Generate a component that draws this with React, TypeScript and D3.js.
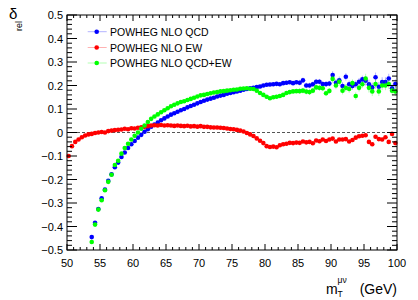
import React from "react";
import * as d3 from "d3";

// Bin centres (0.5 GeV bins from 50 to 100 GeV)
const mT: number[] = d3.range(100).map((i) => 50 + 0.5 * i + 0.25);

const seriesNames = ["POWHEG NLO QCD", "POWHEG NLO EW", "POWHEG NLO QCD+EW"];
const seriesColors = ["#0000ff", "#ff0000", "#00ff00"];

const qcd: (number | null)[] = [
  null, null, null, null, null, null, null,
  -0.445, -0.384, -0.326, -0.28, -0.243, -0.206, -0.178, -0.148, -0.128, -0.104,
  -0.085, -0.066, -0.05, -0.036, -0.022, -0.01, 0.003, 0.014, 0.025, 0.034,
  0.042, 0.052, 0.06, 0.068, 0.076, 0.082, 0.088, 0.095, 0.1, 0.107,
  0.113, 0.118, 0.124, 0.13, 0.135, 0.14, 0.144, 0.148, 0.153, 0.157,
  0.16, 0.165, 0.168, 0.171, 0.175, 0.178, 0.182, 0.185, 0.188, 0.19,
  0.193, 0.196, 0.2, 0.203, 0.204, 0.205, 0.207, 0.205, 0.21, 0.212,
  0.214, 0.21, 0.214, 0.212, 0.222, 0.2, 0.2, 0.205, 0.216, 0.216,
  0.206, 0.206, 0.208, 0.245, 0.212, 0.222, 0.198, 0.237, 0.205, 0.198,
  0.205, 0.216, 0.226, 0.22, 0.205, 0.192, 0.235, 0.195, 0.215, 0.215,
  0.23, 0.188, 0.206,
];

const ew: number[] = [
  -0.1, -0.058, -0.04, -0.03, -0.02, -0.013, -0.008, -0.006, -0.002, 0.0,
  0.002, 0.0, 0.006, 0.008, 0.01, 0.012, 0.013, 0.016, 0.014, 0.018,
  0.017, 0.02, 0.022, 0.024, 0.027, 0.03, 0.031, 0.03, 0.032, 0.03,
  0.031, 0.03, 0.028, 0.03, 0.028, 0.027, 0.029, 0.026, 0.027, 0.025,
  0.027, 0.024, 0.024, 0.022, 0.021, 0.021, 0.02, 0.019, 0.017, 0.015,
  0.014, 0.011, 0.008, 0.004, -0.002, -0.008, -0.015, -0.025, -0.035, -0.045,
  -0.058, -0.062, -0.06, -0.063, -0.054, -0.05, -0.048, -0.044, -0.045, -0.043,
  -0.044, -0.038, -0.042, -0.04, -0.046, -0.034, -0.037, -0.03, -0.036, -0.03,
  -0.026, -0.038, -0.03, -0.03, -0.028, -0.038, -0.032, -0.022, -0.016, -0.014,
  -0.012, -0.04, -0.05, -0.018, -0.028, -0.03, -0.02, -0.04, -0.006, -0.045,
];

const qcdew: (number | null)[] = [
  null, null, null, null, null, null, null,
  -0.466, -0.392, -0.328, -0.288, -0.246, -0.21, -0.18, -0.138, -0.12, -0.09,
  -0.066, -0.048, -0.03, -0.014, 0.0, 0.016, 0.03, 0.045, 0.058, 0.068,
  0.077, 0.086, 0.095, 0.103, 0.112, 0.118, 0.124, 0.13, 0.133, 0.138,
  0.143, 0.148, 0.153, 0.158, 0.16, 0.164, 0.167, 0.17, 0.172, 0.175,
  0.176, 0.178, 0.18, 0.182, 0.183, 0.186, 0.187, 0.188, 0.186, 0.185,
  0.178, 0.168, 0.16, 0.152, 0.146, 0.15, 0.152, 0.155, 0.16, 0.168,
  0.172, 0.175, 0.176, 0.176, 0.178, 0.174, 0.172, 0.178, 0.192, 0.19,
  0.188, 0.167, 0.177, 0.228, 0.2, 0.216, 0.178, 0.19, 0.185, 0.21,
  0.155, 0.19, 0.205, 0.23, 0.19, 0.175, 0.206, 0.175, 0.2, 0.2,
  0.206, 0.178, 0.175,
];

// Statistical uncertainty per 5 GeV block
const errQCDBlocks = [0.004, 0.003, 0.003, 0.003, 0.004, 0.006, 0.008, 0.012, 0.016, 0.02];
const errEWBlocks = [0.002, 0.002, 0.002, 0.002, 0.002, 0.003, 0.004, 0.005, 0.006, 0.008];

const xTickLabels = ["50", "55", "60", "65", "70", "75", "80", "85", "90", "95", "100"];

const W = 418;
const H = 300;
const L = 67;
const R = 397;
const T = 15;
const B = 250;

const font = "'Liberation Sans', Arial, Helvetica, sans-serif";

export default function App() {
  const x = d3.scaleLinear().domain([50, 100]).range([L, R]);
  const y = d3.scaleLinear().domain([-0.5, 0.5]).range([B, T]);

  const xMajor = x.ticks(10);
  const xMinor = x.ticks(50);
  const yMajor = y.ticks(10);
  const yMinor = y.ticks(50);

  const series = [
    { vals: qcd, err: errQCDBlocks, color: seriesColors[0] },
    { vals: ew, err: errEWBlocks, color: seriesColors[1] },
    { vals: qcdew, err: errQCDBlocks, color: seriesColors[2] },
  ];

  const fmtY = (v: number) => (Math.abs(v) < 1e-9 ? "0" : d3.format(".1f")(v));

  return (
    <svg
      width={W}
      height={H}
      style={{ position: "absolute", left: 0, top: 0, background: "#fff" }}
      fontFamily={font}
    >
      <rect x={0} y={0} width={W} height={H} fill="#fff" />
      {/* zero line */}
      <line
        x1={x(50)}
        x2={x(100)}
        y1={y(0)}
        y2={y(0)}
        stroke="#555"
        strokeWidth={1}
        strokeDasharray="3,2"
      />
      {/* data */}
      {series.map((s, si) => (
        <g key={si}>
          {s.vals.map((v, i) =>
            v == null || i >= mT.length ? null : (
              <line
                key={"e" + i}
                x1={x(mT[i])}
                x2={x(mT[i])}
                y1={y(v - s.err[Math.floor(i / 10)])}
                y2={y(v + s.err[Math.floor(i / 10)])}
                stroke={s.color}
                strokeOpacity={0.3}
                strokeWidth={1}
              />
            )
          )}
          {s.vals.map((v, i) =>
            v == null || i >= mT.length ? null : (
              <circle key={"p" + i} cx={x(mT[i])} cy={y(v)} r={2.3} fill={s.color} />
            )
          )}
        </g>
      ))}
      {/* frame */}
      <rect x={L} y={T} width={R - L} height={B - T} fill="none" stroke="#000" strokeWidth={1} />
      {/* x ticks */}
      {xMinor.map((t) => {
        const major = xMajor.some((m) => Math.abs(m - t) < 1e-9);
        const len = major ? 6 : 3;
        return (
          <g key={"xt" + t}>
            <line x1={x(t)} x2={x(t)} y1={B} y2={B - len} stroke="#000" />
            <line x1={x(t)} x2={x(t)} y1={T} y2={T + len} stroke="#000" />
          </g>
        );
      })}
      {/* y ticks */}
      {yMinor.map((t) => {
        const major = yMajor.some((m) => Math.abs(m - t) < 1e-9);
        const len = major ? 10 : 5;
        return (
          <g key={"yt" + t}>
            <line x1={L} x2={L + len} y1={y(t)} y2={y(t)} stroke="#000" />
            <line x1={R} x2={R - len} y1={y(t)} y2={y(t)} stroke="#000" />
          </g>
        );
      })}
      {/* x tick labels */}
      {xMajor.map((t, i) => (
        <text key={"xl" + t} x={x(t)} y={266.5} fontSize={11} textAnchor="middle" fill="#000">
          {xTickLabels[i]}
        </text>
      ))}
      {/* y tick labels */}
      {yMajor.map((t) => (
        <text key={"yl" + t} x={63} y={y(t) + 4} fontSize={11} textAnchor="end" fill="#000">
          {fmtY(t)}
        </text>
      ))}
      {/* y title */}
      <text x={9} y={19} fontSize={15} fill="#000">
        δ
      </text>
      <text x={0} y={0} fontSize={9} fill="#000" transform="translate(22,31) rotate(-90)">
        rel
      </text>
      {/* x title */}
      <text x={397} y={294} fontSize={14} textAnchor="end" fill="#000">
        (GeV)
      </text>
      <text x={326} y={294} fontSize={14} fill="#000">
        m
      </text>
      <text x={337.5} y={297} fontSize={8.5} fill="#000">
        T
      </text>
      <text x={337.5} y={283} fontSize={8.5} fill="#000">
        μν
      </text>
      {/* legend */}
      {seriesNames.map((n, i) => {
        const ly = [31.7, 47.5, 63][i];
        return (
          <g key={"lg" + i}>
            <line x1={87.7} x2={106.7} y1={ly} y2={ly} stroke={seriesColors[i]} strokeOpacity={0.3} />
            <circle cx={96.7} cy={ly} r={2.3} fill={seriesColors[i]} />
            <text x={110} y={ly + 4} fontSize={10.5} fill="#000">
              {n}
            </text>
          </g>
        );
      })}
    </svg>
  );
}
